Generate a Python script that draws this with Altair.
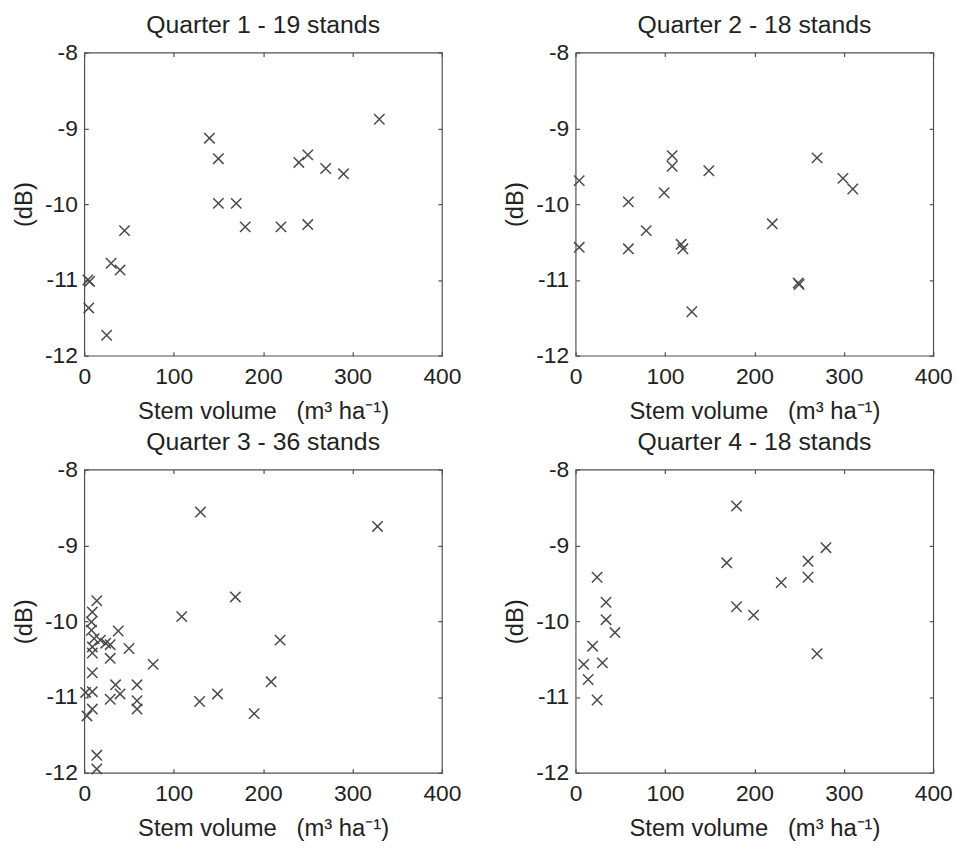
import altair as alt
import pandas as pd

# ---- data ----
q1_volume = [330, 140, 150, 150, 170, 180, 220, 250, 240, 250, 270, 290, 45, 30, 40, 4, 6, 5, 25]
q1_db = [-8.88, -9.13, -9.40, -9.99, -9.99, -10.30, -10.30, -10.27, -9.45, -9.35, -9.53, -9.60,
         -10.35, -10.78, -10.87, -11.00, -11.02, -11.37, -11.73]

q2_volume = [4, 4, 59, 59, 79, 99, 108, 108, 118, 120, 130, 149, 220, 249, 250, 270, 299, 310]
q2_db = [-9.69, -10.57, -9.97, -10.59, -10.35, -9.85, -9.36, -9.50, -10.53, -10.59, -11.42, -9.56,
         -10.26, -11.04, -11.06, -9.39, -9.66, -9.80]

q3_volume = [130, 328, 169, 109, 219, 209, 149, 129, 190,
             14, 9, 8, 8, 11, 18, 24, 29, 9, 9, 29, 38, 50, 77, 9,
             1.5, 9, 35, 40, 29, 59, 59, 59, 9, 3, 14, 14]
q3_db = [-8.56, -8.75, -9.68, -9.94, -10.25, -10.80, -10.96, -11.06, -11.22,
         -9.73, -9.88, -10.01, -10.12, -10.23, -10.25, -10.29, -10.31, -10.34, -10.42, -10.49,
         -10.13, -10.36, -10.57, -10.68,
         -10.94, -10.93, -10.84, -10.96, -11.03, -10.84, -11.05, -11.16, -11.16, -11.25,
         -11.77, -11.95]

q4_volume = [180, 169, 180, 199, 230, 260, 260, 280, 270, 24, 34, 34, 44, 19, 9, 30, 14, 24]
q4_db = [-8.48, -9.23, -9.81, -9.92, -9.49, -9.21, -9.42, -9.03, -10.43,
         -9.42, -9.75, -9.98, -10.15, -10.33, -10.57, -10.55, -10.77, -11.04]

titles = ["Quarter 1 - 19 stands", "Quarter 2 - 18 stands",
          "Quarter 3 - 36 stands", "Quarter 4 - 18 stands"]
x_ticks = [0, 100, 200, 300, 400]
y_ticks = [-12, -11, -10, -9, -8]
x_title = "Stem volume\u00a0\u00a0\u00a0(m\u00b3 ha\u207b\u00b9)"
y_title = "(dB)"

FONT = "Liberation Sans"
INK = "#222222"
FRAME = "#505050"
XPATH = "M-1,-1L1,1M-1,1L1,-1"


def panel(vol, db, title):
    df = pd.DataFrame({"vol": vol, "db": db})
    xs = alt.Scale(domain=[0, 400], nice=False, zero=False)
    ys = alt.Scale(domain=[-12, -8], nice=False, zero=False)
    pts = alt.Chart(df).mark_point(
        shape=XPATH, size=110, filled=False, strokeWidth=1.5, color="#4a4a4a", opacity=1
    ).encode(
        x=alt.X("vol:Q", scale=xs, title=x_title,
                axis=alt.Axis(orient="bottom", values=x_ticks, offset=-4, tickSize=4,
                              labelPadding=10, labelFlush=False, domain=False, grid=False,
                              titlePadding=11)),
        y=alt.Y("db:Q", scale=ys, title=y_title,
                axis=alt.Axis(orient="left", values=y_ticks, offset=-4, tickSize=4,
                              labelPadding=7, labelFlush=False, domain=False, grid=False,
                              labelExpr="'' + datum.value", titlePadding=8)),
    )
    mirror = alt.Chart(df).mark_point(opacity=0).encode(
        x=alt.X("vol:Q", scale=xs, title=None,
                axis=alt.Axis(orient="top", values=x_ticks, offset=-4, tickSize=4,
                              labels=False, domain=False, grid=False)),
        y=alt.Y("db:Q", scale=ys, title=None,
                axis=alt.Axis(orient="right", values=y_ticks, offset=-4, tickSize=4,
                              labels=False, domain=False, grid=False)),
    )
    return alt.layer(pts, mirror).properties(
        width=361, height=306,
        title=alt.TitleParams(title, fontSize=25, font=FONT, fontWeight="normal",
                              color=INK, offset=4, anchor="middle"),
    )


chart = alt.concat(
    panel(q1_volume, q1_db, titles[0]),
    panel(q2_volume, q2_db, titles[1]),
    panel(q3_volume, q3_db, titles[2]),
    panel(q4_volume, q4_db, titles[3]),
    columns=2,
    spacing={"row": 115, "column": 135},
    bounds="flush",
).configure(
    background="white",
    padding={"left": 4, "top": 0, "right": 5, "bottom": 5},
).configure_view(
    stroke=FRAME, strokeWidth=1.2,
).configure_axis(
    labelFont=FONT, titleFont=FONT, labelFontSize=23, titleFontSize=24,
    labelColor=INK, titleColor=INK, titleFontWeight="normal",
    tickColor=FRAME, tickWidth=1.2,
)

chart.save("out.html", embed_options={"renderer": "svg", "actions": False})
